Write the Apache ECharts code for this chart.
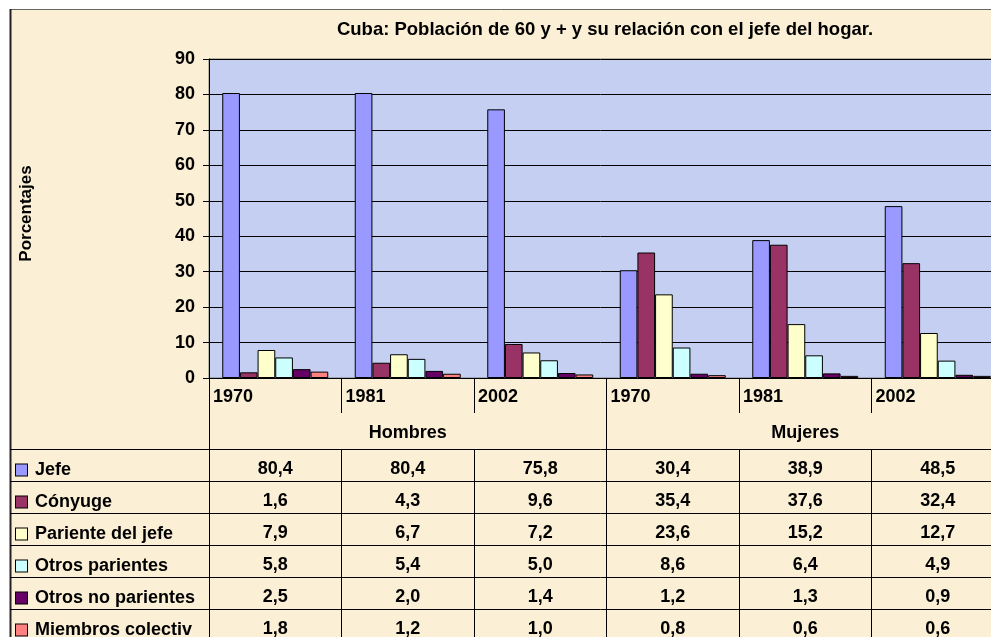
<!DOCTYPE html>
<html>
<head>
<meta charset="utf-8">
<script src="https://cdn.jsdelivr.net/npm/echarts@6/dist/echarts.min.js"></script>
<style>
html, body { margin: 0; padding: 0; background: #fff; }
#chart { width: 991px; height: 637px; }
</style>
</head>
<body>
<div id="chart"></div>
<script>
var years = ['1970', '1981', '2002', '1970', '1981', '2002'];
var groups = ['Hombres', 'Mujeres'];
var seriesNames = ['Jefe', 'Cónyuge', 'Pariente del jefe', 'Otros parientes', 'Otros no parientes', 'Miembros colectiv'];
var jefe = [80.4, 80.4, 75.8, 30.4, 38.9, 48.5];
var conyuge = [1.6, 4.3, 9.6, 35.4, 37.6, 32.4];
var pariente = [7.9, 6.7, 7.2, 23.6, 15.2, 12.7];
var otrosParientes = [5.8, 5.4, 5.0, 8.6, 6.4, 4.9];
var otrosNoParientes = [2.5, 2.0, 1.4, 1.2, 1.3, 0.9];
var miembros = [1.8, 1.2, 1.0, 0.8, 0.6, 0.6];

var colors = ['#9999FF', '#993366', '#FFFFCC', '#CCFFFF', '#660066', '#FF8080'];

const chartView = {
    font: '"Liberation Sans", Arial, sans-serif',
    plotLeft: 209,
    plotTop: 59,
    plotW: 795,
    plotH: 319,
    yearRowH: 35,
    groupRowH: 36,
    rowH: 32,

    init: function () {
        this.render();
    },
    fmt: function (v) {
        return v.toFixed(1).replace('.', ',');
    },
    txt: function (size, extra) {
        var s = { fontFamily: this.font, fontSize: size, fontWeight: 'bold', color: '#000' };
        return Object.assign(s, extra || {});
    },
    render: function () {
        var _this = this;
        var allValues = [jefe, conyuge, pariente, otrosParientes, otrosNoParientes, miembros];
        var black = { color: '#000', width: 1 };

        // eje de las barras (lineas de la fila de años)
        var barAxis = {
            type: 'category', gridIndex: 0, position: 'bottom', data: years,
            axisLine: { show: true, onZero: false, lineStyle: black },
            axisTick: { show: true, interval: 0, length: _this.yearRowH, lineStyle: black },
            axisLabel: { show: false },
            splitLine: { show: false }
        };
        // etiquetas de los años, alineadas a la izquierda de cada celda
        var yearAxis = {
            type: 'category', gridIndex: 0, position: 'bottom', boundaryGap: false,
            data: years.concat(['']),
            axisLine: { show: false, onZero: false },
            axisTick: { show: false },
            axisLabel: Object.assign(_this.txt(18), { interval: 0, align: 'left', margin: 10, padding: [0, 0, 0, 4] })
        };
        var groupAxis = {
            type: 'category', gridIndex: 0, position: 'bottom', offset: _this.yearRowH, data: groups,
            axisLine: { show: false, onZero: false },
            axisTick: { show: true, interval: 0, length: _this.groupRowH, lineStyle: black },
            axisLabel: Object.assign(_this.txt(18), { interval: 0, margin: 11 })
        };
        var rowAxes = allValues.map(function (vals, i) {
            return {
                type: 'category', gridIndex: 0, position: 'bottom',
                offset: _this.yearRowH + _this.groupRowH + i * _this.rowH,
                data: years,
                axisLine: { show: true, onZero: false, lineStyle: black },
                axisTick: { show: true, interval: 0, length: _this.rowH, lineStyle: black },
                axisLabel: Object.assign(_this.txt(18), {
                    interval: 0, margin: 11,
                    formatter: function (v, idx) { return _this.fmt(vals[idx]); }
                })
            };
        });

        var rich = { t: _this.txt(18, { padding: [0, 0, 0, 8] }) };
        colors.forEach(function (c, i) {
            rich['s' + i] = { width: 11, height: 11, backgroundColor: c, borderColor: '#000', borderWidth: 1 };
        });

        var option = {
            backgroundColor: '#fbefd5',
            animation: false,
            title: {
                text: 'Cuba: Población de 60 y + y su relación con el jefe del hogar.',
                left: 600, top: 15, textAlign: 'center',
                textStyle: _this.txt(18.5)
            },
            grid: [
                {
                    left: _this.plotLeft, top: _this.plotTop, width: _this.plotW, height: _this.plotH,
                    outerBoundsMode: 'none',
                    show: true, backgroundColor: '#c5cff2', borderColor: '#7a7a7a', borderWidth: 1
                },
                {
                    left: 10, top: _this.plotTop + _this.plotH + _this.yearRowH + _this.groupRowH,
                    width: _this.plotLeft - 10, height: _this.rowH * 6, outerBoundsMode: 'none'
                }
            ],
            xAxis: [barAxis, yearAxis, groupAxis].concat(rowAxes).concat([
                { type: 'value', gridIndex: 1, show: false }
            ]),
            yAxis: [
                {
                    type: 'value', gridIndex: 0, min: 0, max: 90, interval: 10,
                    name: 'Porcentajes', nameLocation: 'middle', nameGap: 174, nameRotate: 90,
                    nameTextStyle: _this.txt(17, { padding: [0, 0, 0, 10] }),
                    axisLine: { show: true, lineStyle: black },
                    axisTick: { show: true, length: 6, lineStyle: black },
                    axisLabel: Object.assign(_this.txt(18), { margin: 14 }),
                    splitLine: { show: true, lineStyle: black }
                },
                {
                    type: 'category', gridIndex: 1, inverse: true, data: seriesNames,
                    axisLine: { show: false }, axisTick: { show: false },
                    splitLine: { show: true, interval: 0, lineStyle: black },
                    axisLabel: {
                        inside: true, margin: 6, interval: 0, rich: rich, padding: [10, 0, 0, 0],
                        formatter: function (v, i) { return '{s' + i + '|}{t|' + v + '}'; }
                    }
                }
            ],
            series: allValues.map(function (vals, i) {
                return {
                    name: seriesNames[i], type: 'bar', xAxisIndex: 0, yAxisIndex: 0,
                    data: vals, barGap: '0%', barCategoryGap: '20%',
                    itemStyle: { color: colors[i], borderColor: '#000', borderWidth: 1 }
                };
            }),
            graphic: [
                { type: 'rect', shape: { x: 0, y: 0, width: 991, height: 9 }, style: { fill: '#fff' }, silent: true },
                { type: 'rect', shape: { x: 0, y: 0, width: 10, height: 637 }, style: { fill: '#fff' }, silent: true },
                { type: 'line', shape: { x1: 10, y1: 9.5, x2: 991, y2: 9.5 }, style: { stroke: '#666', lineWidth: 1 }, silent: true },
                { type: 'line', shape: { x1: 10.5, y1: 9, x2: 10.5, y2: 637 }, style: { stroke: '#222', lineWidth: 2 }, silent: true }
            ]
        };
        var myChart = echarts.init(document.getElementById('chart'));
        myChart.clear();
        myChart.setOption(option);
    }
};

chartView.init();
</script>
</body>
</html>
